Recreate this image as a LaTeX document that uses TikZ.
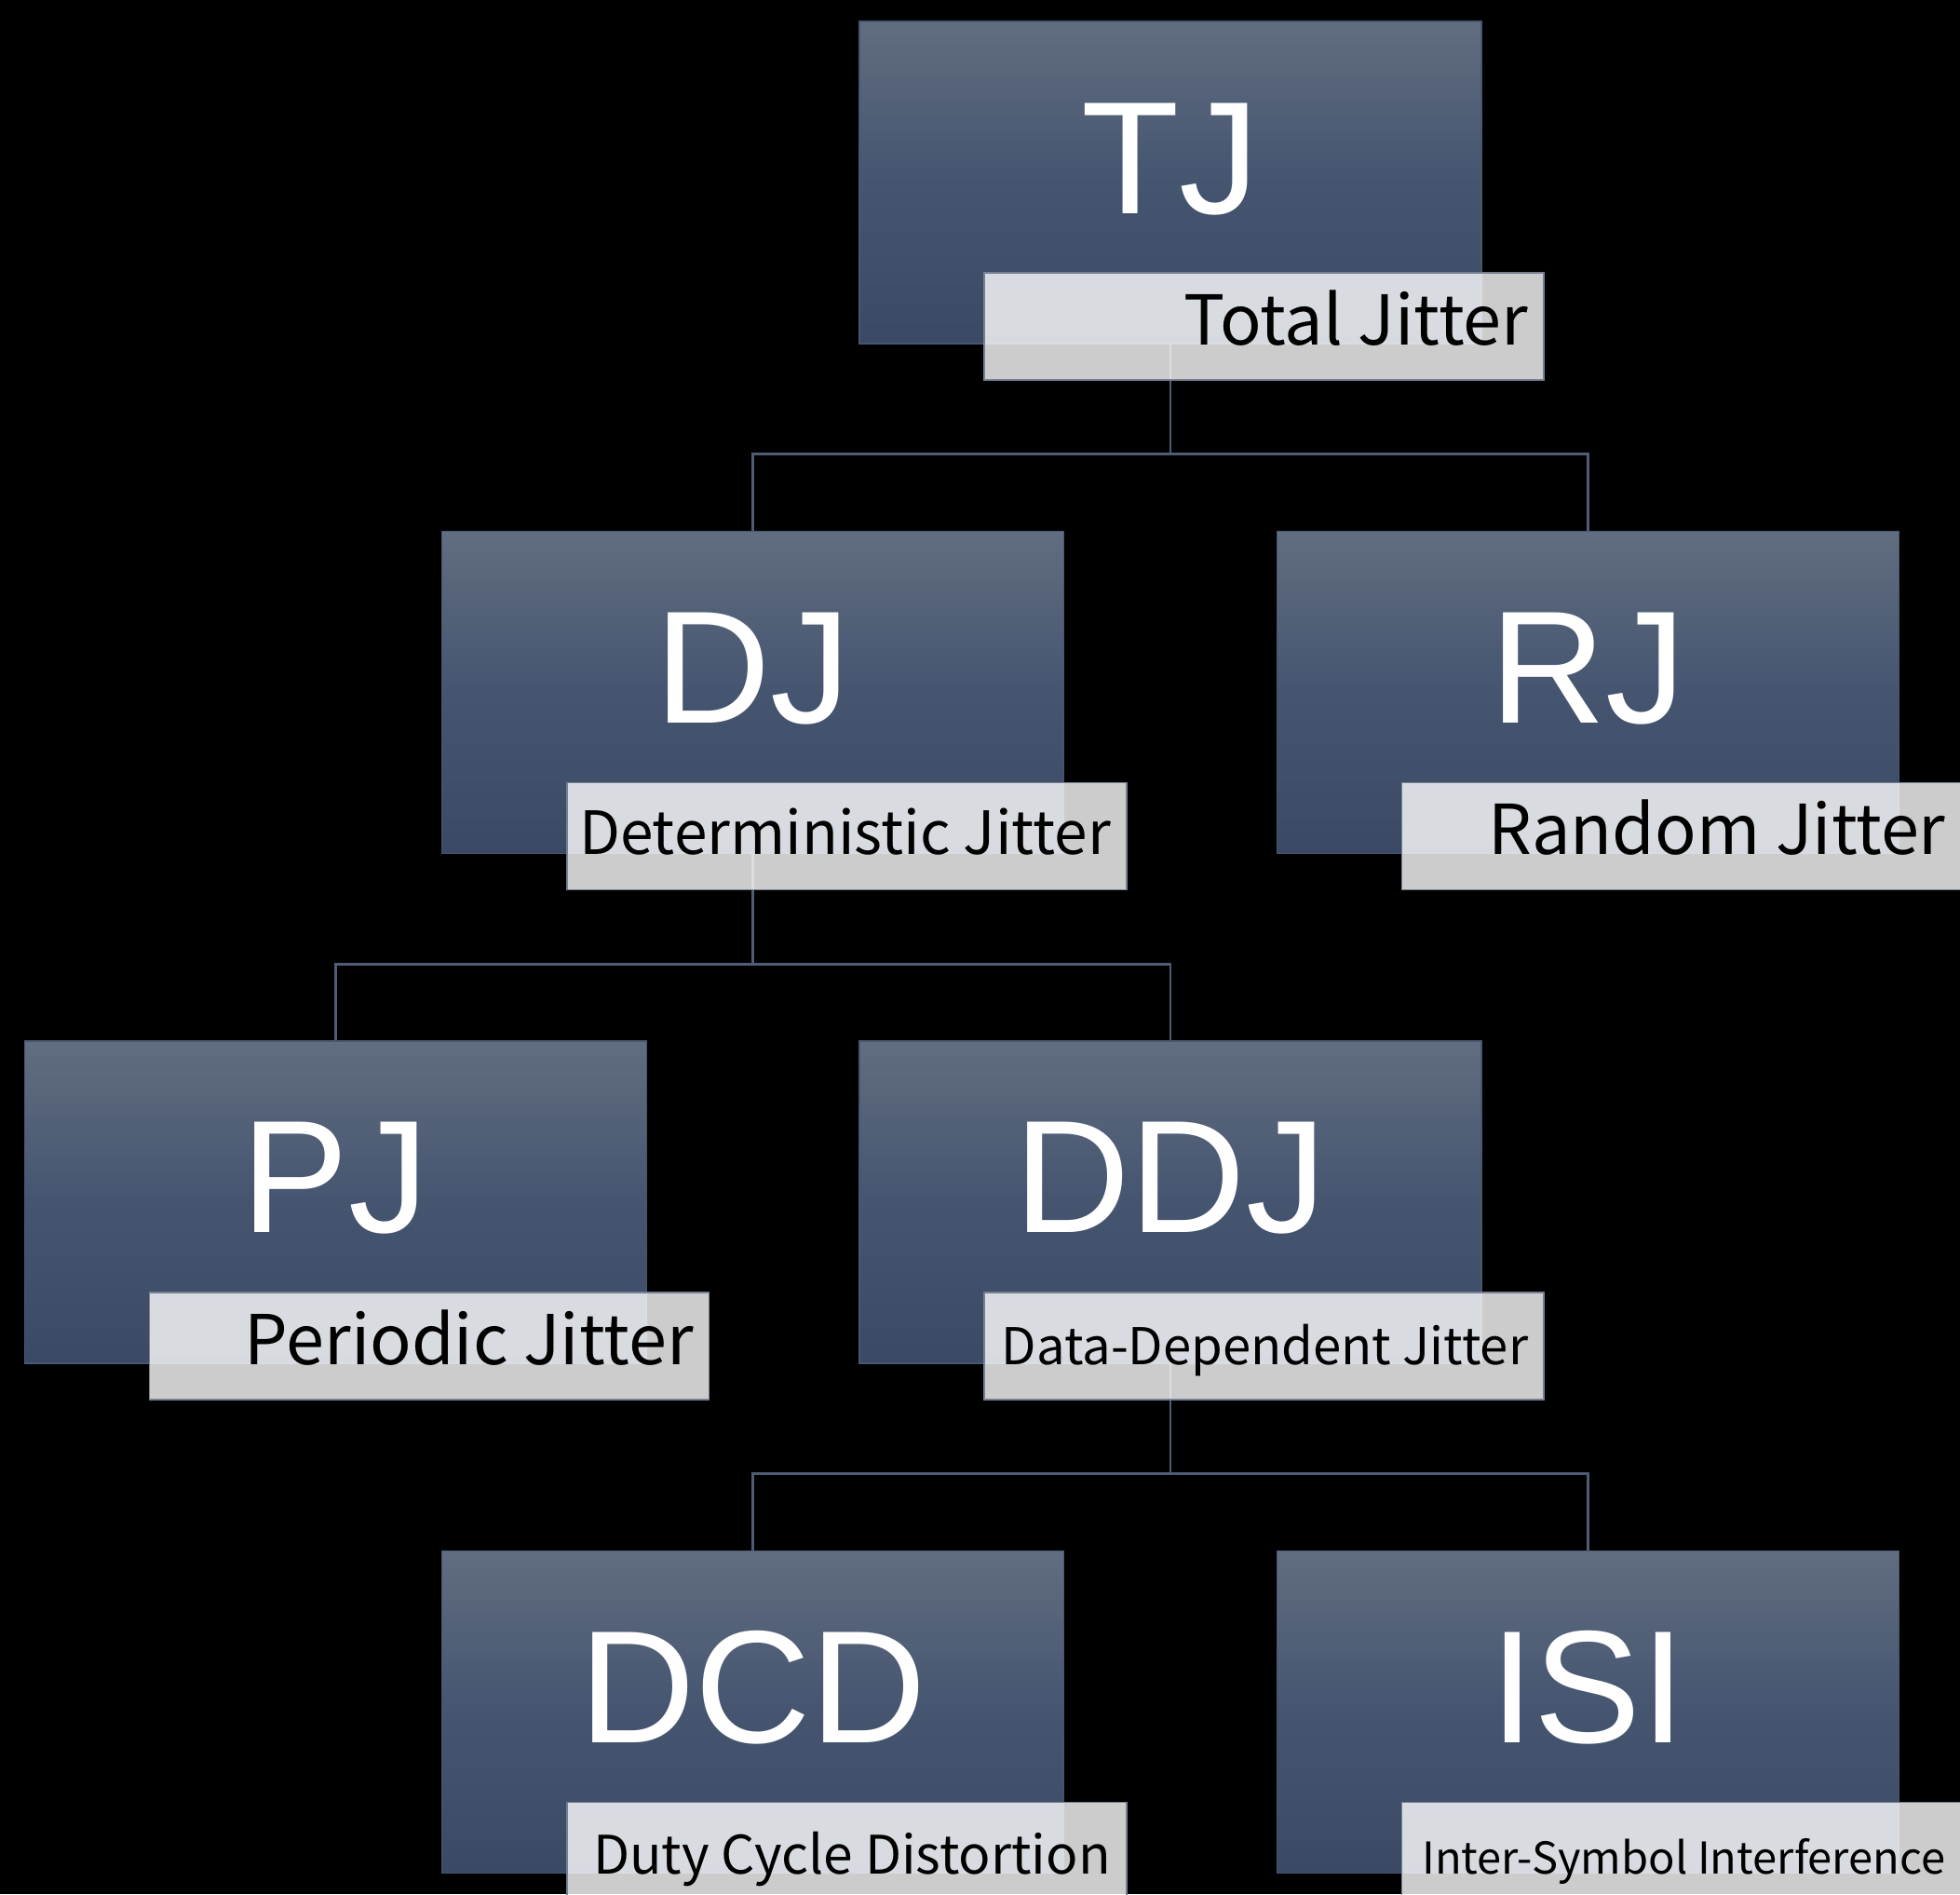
\documentclass[tikz,border=0pt]{standalone}
\usepackage{fontspec}
\setmainfont{Noto Sans CJK SC}
\newfontfamily\bigfont{Liberation Sans}
\usepackage{tikz}
\usetikzlibrary{positioning}
\definecolor{jtop}{RGB}{97,109,128}
\definecolor{jmid}{RGB}{69,85,112}
\definecolor{jbot}{RGB}{59,74,100}
\definecolor{jedge}{RGB}{72,87,112}
\definecolor{jline}{RGB}{78,92,116}
\definecolor{capedge}{RGB}{118,128,146}
\tikzset{%
  jbox/.style = {rectangle,draw=jedge,line width=0.4pt,
        top color=jtop,bottom color=jbot,middle color=jmid,
        minimum width=6.68cm,minimum height=3.46cm,inner sep=0pt,
        text=white,font=\bigfont\fontsize{49pt}{49pt}\selectfont,
        text height=1.24cm,text depth=0.58cm},
  capbox/.style = {rectangle,draw=capedge,line width=0.5pt,
        fill=white,fill opacity=0.8,text opacity=1,text=black,
        minimum width=6.01cm,inner xsep=0.17cm,inner ysep=0pt,
        text height=0.77cm,text depth=0.38cm,
        anchor=north west,xshift=1.34cm,yshift=-2.70cm,
        font=\fontsize{21pt}{21pt}\selectfont},
  link/.style = {draw=jline,line width=0.8pt}
}
\newcommand{\capline}[1]{\makebox[5.67cm][r]{#1}}

\begin{document}
\begin{tikzpicture}[node distance=2cm]
   \fill[black] (0,0) rectangle (21.05,-20.34);
   \useasboundingbox (0,0) rectangle (21.05,-20.34);

   \node[jbox] (tj) at (12.57,-1.96) {TJ};
   \node[jbox] (dj) [below=of tj,xshift=-4.483cm] {DJ};
   \node[jbox] (rj) [below=of tj,xshift=4.483cm] {RJ};
   \node[jbox] (pj) [below=of dj,xshift=-4.483cm] {PJ};
   \node[jbox] (ddj) [below=of dj,xshift=4.483cm] {DDJ};
   \node[jbox] (dcd) [below=of ddj,xshift=-4.483cm] {DCD};
   \node[jbox] (isi) [below=of ddj,xshift=4.483cm] {ISI};

   \draw[link] (tj.south) -- ++(0,-1.18) -| (dj.north);
   \draw[link] (tj.south) -- ++(0,-1.18) -| (rj.north);
   \draw[link] (dj.south) -- ++(0,-1.18) -| (pj.north);
   \draw[link] (dj.south) -- ++(0,-1.18) -| (ddj.north);
   \draw[link] (ddj.south) -- ++(0,-1.18) -| (dcd.north);
   \draw[link] (ddj.south) -- ++(0,-1.18) -| (isi.north);

   % captions
   \node[capbox] (tj-cap) at (tj.north west) {\capline{Total Jitter}};
   \node[capbox,font=\fontsize{18.2pt}{18.2pt}\selectfont] (dj-cap) at (dj.north west) {\capline{Deterministic Jitter}};
   \node[capbox] (rj-cap) at (rj.north west) {\capline{Random Jitter}};
   \node[capbox] (pj-cap) at (pj.north west) {\capline{Periodic Jitter}};
   \node[capbox,font=\fontsize{15.5pt}{15.5pt}\selectfont] (ddj-cap) at (ddj.north west) {\capline{Data-Dependent Jitter}};
   \node[capbox,font=\fontsize{16.2pt}{16.2pt}\selectfont] (dcd-cap) at (dcd.north west) {\capline{Duty Cycle Distortion}};
   \node[capbox,font=\fontsize{13.4pt}{13.4pt}\selectfont] (isi-cap) at (isi.north west) {\capline{Inter-Symbol Interference}};
\end{tikzpicture}
\end{document}
